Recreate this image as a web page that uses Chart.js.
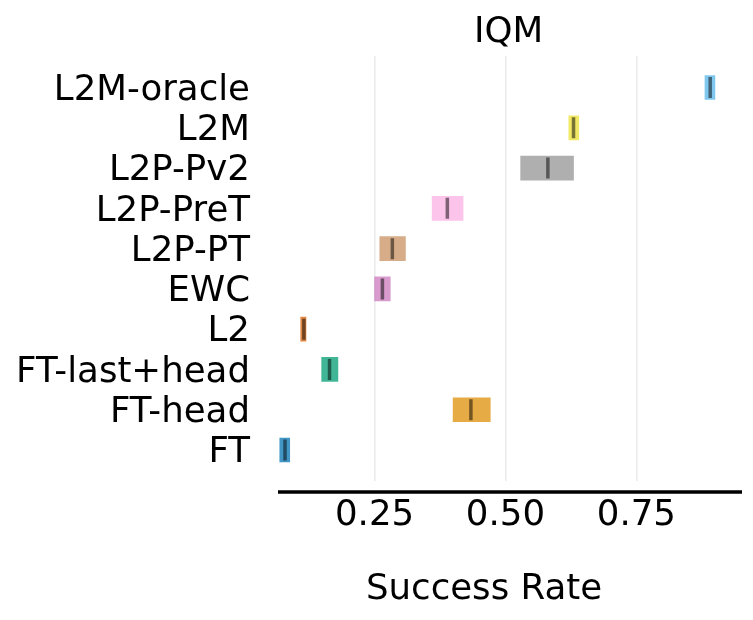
<!DOCTYPE html>
<html>
<head>
<meta charset="utf-8">
<script src="https://cdn.jsdelivr.net/npm/chart.js@4/dist/chart.umd.min.js"></script>
<style>
  html, body { margin: 0; padding: 0; background: #fff; }
  #wrap { width: 753px; height: 620px; }
</style>
</head>
<body>
<div id="wrap"><canvas id="chart" width="753" height="620"></canvas></div>
<script>
// methods, top to bottom
const methods = ['L2M-oracle', 'L2M', 'L2P-Pv2', 'L2P-PreT', 'L2P-PT', 'EWC', 'L2', 'FT-last+head', 'FT-head', 'FT'];
// IQM point estimate and confidence interval bounds
const iqm   = [0.891, 0.630, 0.581, 0.389, 0.284, 0.265, 0.115, 0.164, 0.434, 0.079];
const ciLow = [0.881, 0.621, 0.529, 0.360, 0.260, 0.250, 0.109, 0.149, 0.400, 0.069];
const ciHigh = [0.900, 0.640, 0.630, 0.419, 0.309, 0.280, 0.119, 0.180, 0.471, 0.088];
const colors = ['#56b4e9', '#ece133', '#949494', '#fbafe4', '#ca9161', '#cc78bc', '#d55e00', '#029e73', '#de8f05', '#0173b2'];
const xTicks = [0.25, 0.5, 0.75];
const xLabel = 'Success Rate';

const FONT = 'DejaVu Sans';
const SIZE = 35.6;

function withAlpha(hex, a) {
  const n = parseInt(hex.slice(1), 16);
  return `rgba(${(n >> 16) & 255}, ${(n >> 8) & 255}, ${n & 255}, ${a})`;
}

// bottom spine offset below the plot, and the x label (which sits left of centre in the original)
const spinePlugin = {
  id: 'spine',
  afterDraw(chart) {
    const { ctx, chartArea } = chart;
    ctx.save();
    ctx.strokeStyle = '#000';
    ctx.lineWidth = 3.5;
    ctx.beginPath();
    ctx.moveTo(chartArea.left, chartArea.bottom + 11);
    ctx.lineTo(chartArea.right + 3, chartArea.bottom + 11);
    ctx.stroke();
    ctx.fillStyle = '#000';
    ctx.font = `${SIZE}px "${FONT}"`;
    ctx.textAlign = 'center';
    ctx.textBaseline = 'alphabetic';
    ctx.fillText(xLabel, 484, 599);
    ctx.restore();
  }
};

new Chart(document.getElementById('chart'), {
  data: {
    datasets: [
      {
        type: 'scatter',
        data: methods.map((m, i) => ({ x: iqm[i], y: i })),
        pointStyle: 'line',
        rotation: 90,
        radius: 10.5,
        borderWidth: 3.5,
        borderColor: 'rgba(0,0,0,0.5)',
        backgroundColor: 'rgba(0,0,0,0.5)'
      },
      {
        type: 'bar',
        indexAxis: 'y',
        data: methods.map((m, i) => ({ y: i, x: [ciLow[i], ciHigh[i]] })),
        backgroundColor: colors.map(c => withAlpha(c, 0.75)),
        borderWidth: 0,
        barThickness: 24
      }
    ]
  },
  options: {
    responsive: false,
    animation: false,
    layout: { padding: { left: 0, right: 12, top: 0, bottom: 14 } },
    plugins: {
      legend: { display: false },
      tooltip: { enabled: false },
      title: {
        display: true,
        text: 'IQM',
        fullSize: false,
        color: '#000',
        font: { family: FONT, size: SIZE, weight: 'normal' },
        padding: { top: 11, bottom: 2 }
      }
    },
    scales: {
      x: {
        type: 'linear',
        min: 0.0656,
        max: 0.946,
        afterBuildTicks: axis => { axis.ticks = xTicks.map(v => ({ value: v })); },
        afterFit: axis => { axis.height = 125; },
        grid: { color: '#ebebeb', lineWidth: 1.6, drawTicks: false },
        border: { display: false },
        ticks: {
          color: '#000',
          padding: 13,
          font: { family: FONT, size: SIZE },
          callback: v => v.toFixed(2)
        }
      },
      y: {
        type: 'linear',
        reverse: true,
        offset: false,
        min: -0.79,
        max: 9.77,
        afterBuildTicks: axis => { axis.ticks = methods.map((m, i) => ({ value: i })); },
        afterFit: axis => { axis.width = 278; },
        grid: { display: false, drawTicks: false, offset: false },
        border: { display: false },
        ticks: {
          autoSkip: false,
          color: '#000',
          padding: 28,
          labelOffset: 3,
          font: { family: FONT, size: SIZE },
          callback: v => methods[v]
        }
      }
    }
  },
  plugins: [spinePlugin]
});
</script>
</body>
</html>
